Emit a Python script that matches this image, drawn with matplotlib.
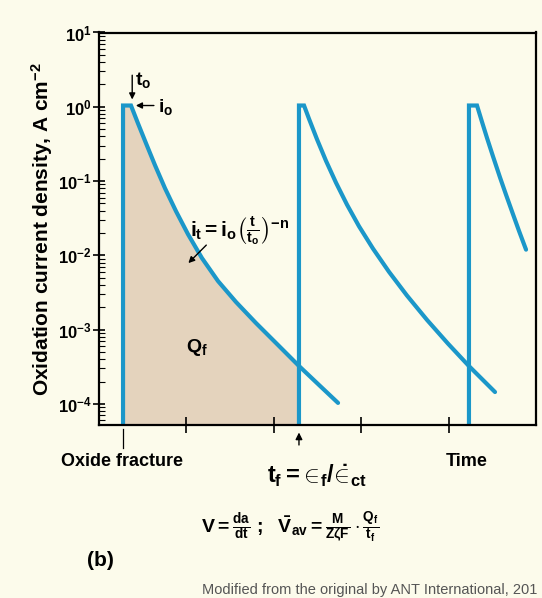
import matplotlib.pyplot as plt
from matplotlib.ticker import LogLocator, NullFormatter, FixedLocator
from matplotlib import font_manager

# time axis in arbitrary units, current density in A cm^-2
floor = 5.2e-5

t_pulse1 = [0.275, 0.275, 0.366, 0.446, 0.538, 0.641, 0.755, 0.881, 1.018, 1.178, 1.362,
            1.568, 1.796, 2.048, 2.288, 2.529, 2.735]
i_pulse1 = [floor, 1.04, 1.04, 0.598, 0.3222, 0.1631, 0.0800, 0.03926, 0.01927, 0.00918, 0.0045,
            0.00235, 0.001227, 0.000621, 0.000324, 0.0001745, 0.0001031]

t_pulse2 = [2.288, 2.288, 2.346, 2.403, 2.494, 2.597, 2.712, 2.838, 2.975, 3.135, 3.318,
            3.524, 3.753, 3.993, 4.233, 4.531]
i_pulse2 = [floor, 1.04, 1.04, 0.688, 0.3658, 0.1874, 0.0949, 0.0480, 0.02461, 0.01231, 0.0060,
            0.002873, 0.001351, 0.000648, 0.000323, 0.0001445]

t_pulse3 = [4.233, 4.233, 4.325, 4.382, 4.439, 4.508, 4.588, 4.657, 4.737, 4.805, 4.886]
i_pulse3 = [floor, 1.04, 1.04, 0.627, 0.382, 0.2148, 0.1121, 0.0655, 0.0357, 0.02141, 0.01193]

n_fill = 15  # charge Q_f: area under first pulse up to t_f
time_ticks = [1, 2, 3, 4]

avail = {f.name for f in font_manager.fontManager.ttflist}
fam = [f for f in ['Liberation Sans Narrow', 'Liberation Sans', 'DejaVu Sans'] if f in avail]
plt.rcParams['font.family'] = fam
plt.rcParams['mathtext.fontset'] = 'custom'
plt.rcParams['mathtext.rm'] = fam[0] + ':bold'
plt.rcParams['mathtext.it'] = fam[0] + ':bold'
plt.rcParams['mathtext.bf'] = fam[0] + ':bold'

bg = '#fcfbeb'
blue = '#1b97c9'
tan = '#e4d3bd'

fig = plt.figure(figsize=(5.42, 5.98), dpi=100, facecolor=bg)
ax = fig.add_axes([99/542, 1 - 425/598, 437/542, 392.5/598], facecolor=bg)

ax.fill_between(t_pulse1[:n_fill], floor, i_pulse1[:n_fill], color=tan, lw=0)
for t, i in [(t_pulse1, i_pulse1), (t_pulse2, i_pulse2), (t_pulse3, i_pulse3)]:
    ax.plot(t, i, color=blue, lw=3.0, solid_joinstyle='miter', solid_capstyle='round')

ax.set_yscale('log')
ax.set_ylim(floor, 10)
ax.set_xlim(0, 5)
ax.yaxis.set_major_locator(LogLocator(base=10, numticks=10))
ax.yaxis.set_minor_locator(LogLocator(base=10, subs=range(2, 10), numticks=10))
ax.yaxis.set_minor_formatter(NullFormatter())
ax.xaxis.set_major_locator(FixedLocator(time_ticks))
ax.set_xticklabels([])
for s in ax.spines.values():
    s.set_linewidth(1.6)
ax.tick_params(axis='y', which='major', direction='inout', length=9, width=1.2,
               labelsize=12, pad=1)
ax.tick_params(axis='y', which='minor', direction='in', length=4, width=0.8)
ax.tick_params(axis='x', which='major', direction='inout', length=11, width=1.2)
for lab in ax.get_yticklabels():
    lab.set_fontweight('bold')

ax.set_ylabel(r'Oxidation current density, A cm$^{-2}$', fontsize=15, fontweight='bold', labelpad=2)

# labels below the time axis
xt = ax.get_xaxis_transform()
ax.plot([t_pulse1[0], t_pulse1[0]], [-0.01, -0.058], transform=xt, color='black', lw=0.9, clip_on=False)
ax.annotate('', xy=(t_pulse2[0], -0.012), xytext=(t_pulse2[0], -0.058), xycoords=xt,
            arrowprops=dict(arrowstyle='-|>', color='black', lw=1.0, mutation_scale=10))
fig.text(122/542, 1 - 462/598, 'Oxide fracture', ha='center', va='center', fontsize=13, fontweight='bold')
fig.text(467/542, 1 - 462/598, 'Time', ha='center', va='center', fontsize=13, fontweight='bold')
fig.text(317/542, 1 - 476/598, r'$t_f = {\!\in\!}_f/{\!\dot{\in}\!}_{ct}$',
         ha='center', va='center', fontsize=17)

# annotations on the first pulse
ax.annotate('', xy=(0.38, 1.15), xytext=(0.38, 2.9),
            arrowprops=dict(arrowstyle='-|>', color='black', lw=1.0, mutation_scale=9))
ax.text(0.41, 2.3, r'$t_o$', fontsize=14, ha='left', va='center')
ax.annotate('', xy=(0.39, 1.04), xytext=(0.66, 1.04),
            arrowprops=dict(arrowstyle='-|>', color='black', lw=1.0, mutation_scale=9))
ax.text(0.67, 1.0, r'$i_o$', fontsize=14, ha='left', va='center')
ax.text(1.04, 0.0218, r'$i_t = i_o\left(\frac{t}{t_o}\right)^{-n}$', fontsize=15, ha='left', va='center')
ax.annotate('', xy=(1.0, 0.0074), xytext=(1.25, 0.0146),
            arrowprops=dict(arrowstyle='-|>', color='black', lw=1.0, mutation_scale=9))
ax.text(1.0, 0.00058, r'$Q_f$', fontsize=14, ha='left', va='center')

fig.text(290/542, 1 - 527/598,
         r'$V = \frac{da}{dt}\ ;\ \ \bar{V}_{av} = \frac{M}{Z\zeta F}\cdot\frac{Q_f}{t_f}$',
         ha='center', va='center', fontsize=14)
fig.text(87/542, 1 - 561/598, '(b)', ha='left', va='center', fontsize=15, fontweight='bold')
fig.text(202/542, 1 - 590/598, 'Modified from the original by ANT International, 201',
         ha='left', va='center', fontsize=10.5, color='#555555', family=['Liberation Sans', 'DejaVu Sans'])

fig.savefig('out.png', dpi=100, facecolor=bg)
